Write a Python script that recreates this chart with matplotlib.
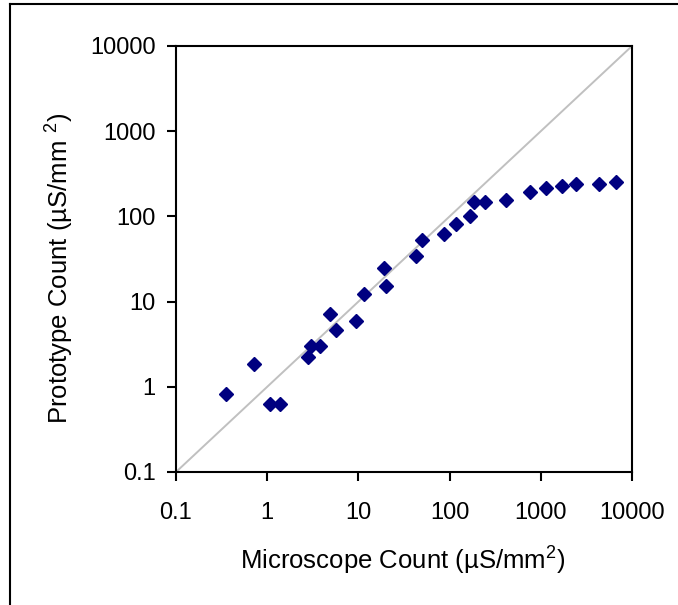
import numpy as np
import matplotlib.pyplot as plt
from matplotlib.lines import Line2D
from matplotlib.ticker import FixedLocator, FixedFormatter, NullLocator

plt.rcParams['font.family'] = ['Liberation Sans', 'DejaVu Sans']
plt.rcParams['mathtext.fontset'] = 'custom'
plt.rcParams['mathtext.rm'] = 'Liberation Sans'
plt.rcParams['mathtext.it'] = 'Liberation Sans'

# microscope count vs prototype count (uS/mm^2)
microscope = [0.35, 0.72, 1.07, 1.39, 2.81, 3.06, 3.81, 4.85, 5.65, 9.35,
              11.4, 19.0, 20.3, 42.7, 50.3, 86.0, 117, 169, 185, 243,
              420, 766, 1148, 1701, 2440, 4308, 6747]
prototype = [0.82, 1.86, 0.62, 0.62, 2.24, 3.04, 3.0, 7.15, 4.61, 5.86,
             12.2, 25.0, 15.3, 34.2, 53.0, 62.7, 81.3, 100, 147, 148,
             157, 193, 215, 229, 241, 240, 254]

ticks = [0.1, 1, 10, 100, 1000, 10000]
tick_labels = ["0.1", "1", "10", "100", "1000", "10000"]

W, H = 678, 605
fig = plt.figure(figsize=(W / 100, H / 100), dpi=100)

# partial frame round the chart (left and top edges only)
fig.add_artist(Line2D([10 / W, 10 / W], [0, 1 - 4 / H], transform=fig.transFigure,
                      color='black', linewidth=1.5))
fig.add_artist(Line2D([10 / W, 1], [1 - 4 / H, 1 - 4 / H], transform=fig.transFigure,
                      color='black', linewidth=1.5))

ax = fig.add_axes([176 / W, 1 - 472 / H, 456 / W, 426 / H])
ax.set_xscale('log')
ax.set_yscale('log')
ax.set_xlim(0.1, 10000)
ax.set_ylim(0.1, 10000)

ax.plot([0.1, 10000], [0.1, 10000], color='#c0c0c0', linewidth=1.4, zorder=1)
ax.plot(microscope, prototype, linestyle='none', marker='D', markersize=7.2,
        color='#000080', zorder=2)

for a in (ax.xaxis, ax.yaxis):
    a.set_major_locator(FixedLocator(ticks))
    a.set_major_formatter(FixedFormatter(tick_labels))
    a.set_minor_locator(NullLocator())

ax.tick_params(direction='out', length=6.5, width=1.5, labelsize=17,
               top=False, right=False)
ax.tick_params(axis='x', pad=15)
ax.tick_params(axis='y', pad=8)
for s in ax.spines.values():
    s.set_linewidth(1.5)

fig.text(403 / W, 1 - 570 / H, "Microscope Count (µS/mm$^2$)", fontsize=18.5,
         ha='center', va='baseline')
fig.text(69 / W, 1 - 268 / H, "Prototype Count (µS/mm $^2$)", fontsize=18.5,
         ha='center', va='baseline', rotation=90, rotation_mode='anchor')

fig.savefig("out.png", dpi=100)
